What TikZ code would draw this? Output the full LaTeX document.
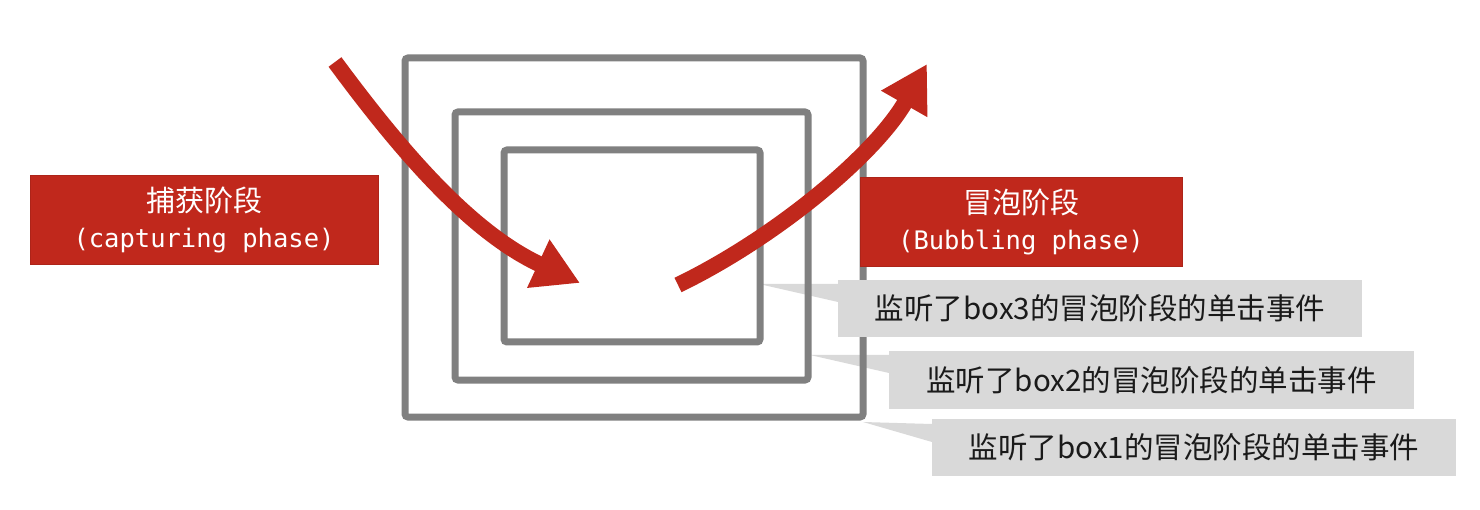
\documentclass[tikz,border=0pt]{standalone}
\usepackage{fontspec}
\usetikzlibrary{arrows.meta,calc}
\newfontfamily\cjk{Noto Sans CJK SC}
\newfontfamily\monof{DejaVu Sans Mono}
\definecolor{phasered}{HTML}{C0281C}
\definecolor{boxgray}{HTML}{808080}
\definecolor{notegray}{HTML}{D9D9D9}
\definecolor{notetext}{HTML}{1A1A1A}
\tikzset{
  framebox/.style={draw=boxgray, line width=7pt, rounded corners=3pt, inner sep=0pt, outer sep=0pt},
  phasebox/.style={fill=phasered, draw=phasered!90!black, line width=0.8pt, text=white, align=center,
                   inner sep=0pt, outer sep=0pt, font=\fontsize{29}{36}\selectfont},
  notebox/.style={fill=notegray, text=notetext, inner sep=0pt, outer sep=0pt, minimum height=57pt,
                  font=\cjk\fontsize{29.5}{34}\selectfont},
  notetail/.style={fill=notegray},
  anchorbox/.style={inner sep=0pt, outer sep=0pt},
  flow/.style={draw=phasered, line width=16pt, -{Triangle[length=46pt,width=50pt]}}
}
\begin{document}
\begin{tikzpicture}[x=1pt,y=-1pt]
  \useasboundingbox (0,0) rectangle (1480,510);

  % callout bodies (positioned here, drawn later on top)
  \path (1100,308.5) node[anchorbox, minimum width=524pt, minimum height=57pt] (c3) {};
  \path (1151.5,380) node[anchorbox, minimum width=525pt, minimum height=58pt] (c2) {};
  \path (1194,447.5) node[anchorbox, minimum width=524pt, minimum height=57pt] (c1) {};

  % nested frames
  \coordinate (b1c) at (634,237.5);
  \coordinate (b2c) at (631.5,246);
  \coordinate (b3c) at (632,246);
  \path (b1c) node[anchorbox, minimum width=458pt, minimum height=359pt] (b1) {};
  \path (b2c) node[anchorbox, minimum width=353pt, minimum height=268pt] (b2) {};
  \path (b3c) node[anchorbox, minimum width=256pt, minimum height=192pt] (b3) {};

  % callout tails, pointing at the frames
  \coordinate (t3) at ($(b3.east)+(-1,38)$);
  \coordinate (t2) at ($(b2.east)+(2,109)$);
  \coordinate (t1) at ($(b1.south east)+(0,5)$);
  \fill[notetail] (t3) -- ($(c3.north west)+(0,4)$) -- ($(c3.north west)+(0,22)$) -- cycle;
  \fill[notetail] (t2) -- ($(c2.north west)+(0,4)$) -- ($(c2.north west)+(0,22)$) -- cycle;
  \fill[notetail] (t1) -- ($(c1.north west)+(0,5)$) -- ($(c1.north west)+(0,23)$) -- cycle;

  % frames drawn over the tails
  \path (b1c) node[framebox, minimum width=458pt, minimum height=359pt] (f1) {};
  \path (b2c) node[framebox, minimum width=353pt, minimum height=268pt] (f2) {};
  \path (b3c) node[framebox, minimum width=256pt, minimum height=192pt] (f3) {};

  % capturing and bubbling arrows
  \coordinate (cs) at (335,62);
  \coordinate (ce) at (580,283);
  \coordinate (bs) at (678,285);
  \coordinate (be) at (927,64);
  \draw[flow] (cs) .. controls (400,150) and (470,232) .. (ce);
  \draw[flow] (bs) .. controls (775,238) and (875,155) .. (be);

  % phase labels
  \node[phasebox, minimum width=348pt, minimum height=89pt] (cap) at (204,219.5)
    {\cjk 捕获阶段\\{\monof\fontsize{25.5}{36}\selectfont (capturing phase)}};
  \node[phasebox, minimum width=322pt, minimum height=89pt] (bub) at (1021,221.5)
    {\cjk 冒泡阶段\\{\monof\fontsize{25.5}{36}\selectfont (Bubbling phase)}};

  % callout bodies with text
  \node[notebox, minimum width=524pt] (n3) at (c3) {监听了box3的冒泡阶段的单击事件};
  \node[notebox, minimum width=525pt, minimum height=58pt] (n2) at (c2) {监听了box2的冒泡阶段的单击事件};
  \node[notebox, minimum width=524pt] (n1) at (c1) {监听了box1的冒泡阶段的单击事件};
\end{tikzpicture}
\end{document}
